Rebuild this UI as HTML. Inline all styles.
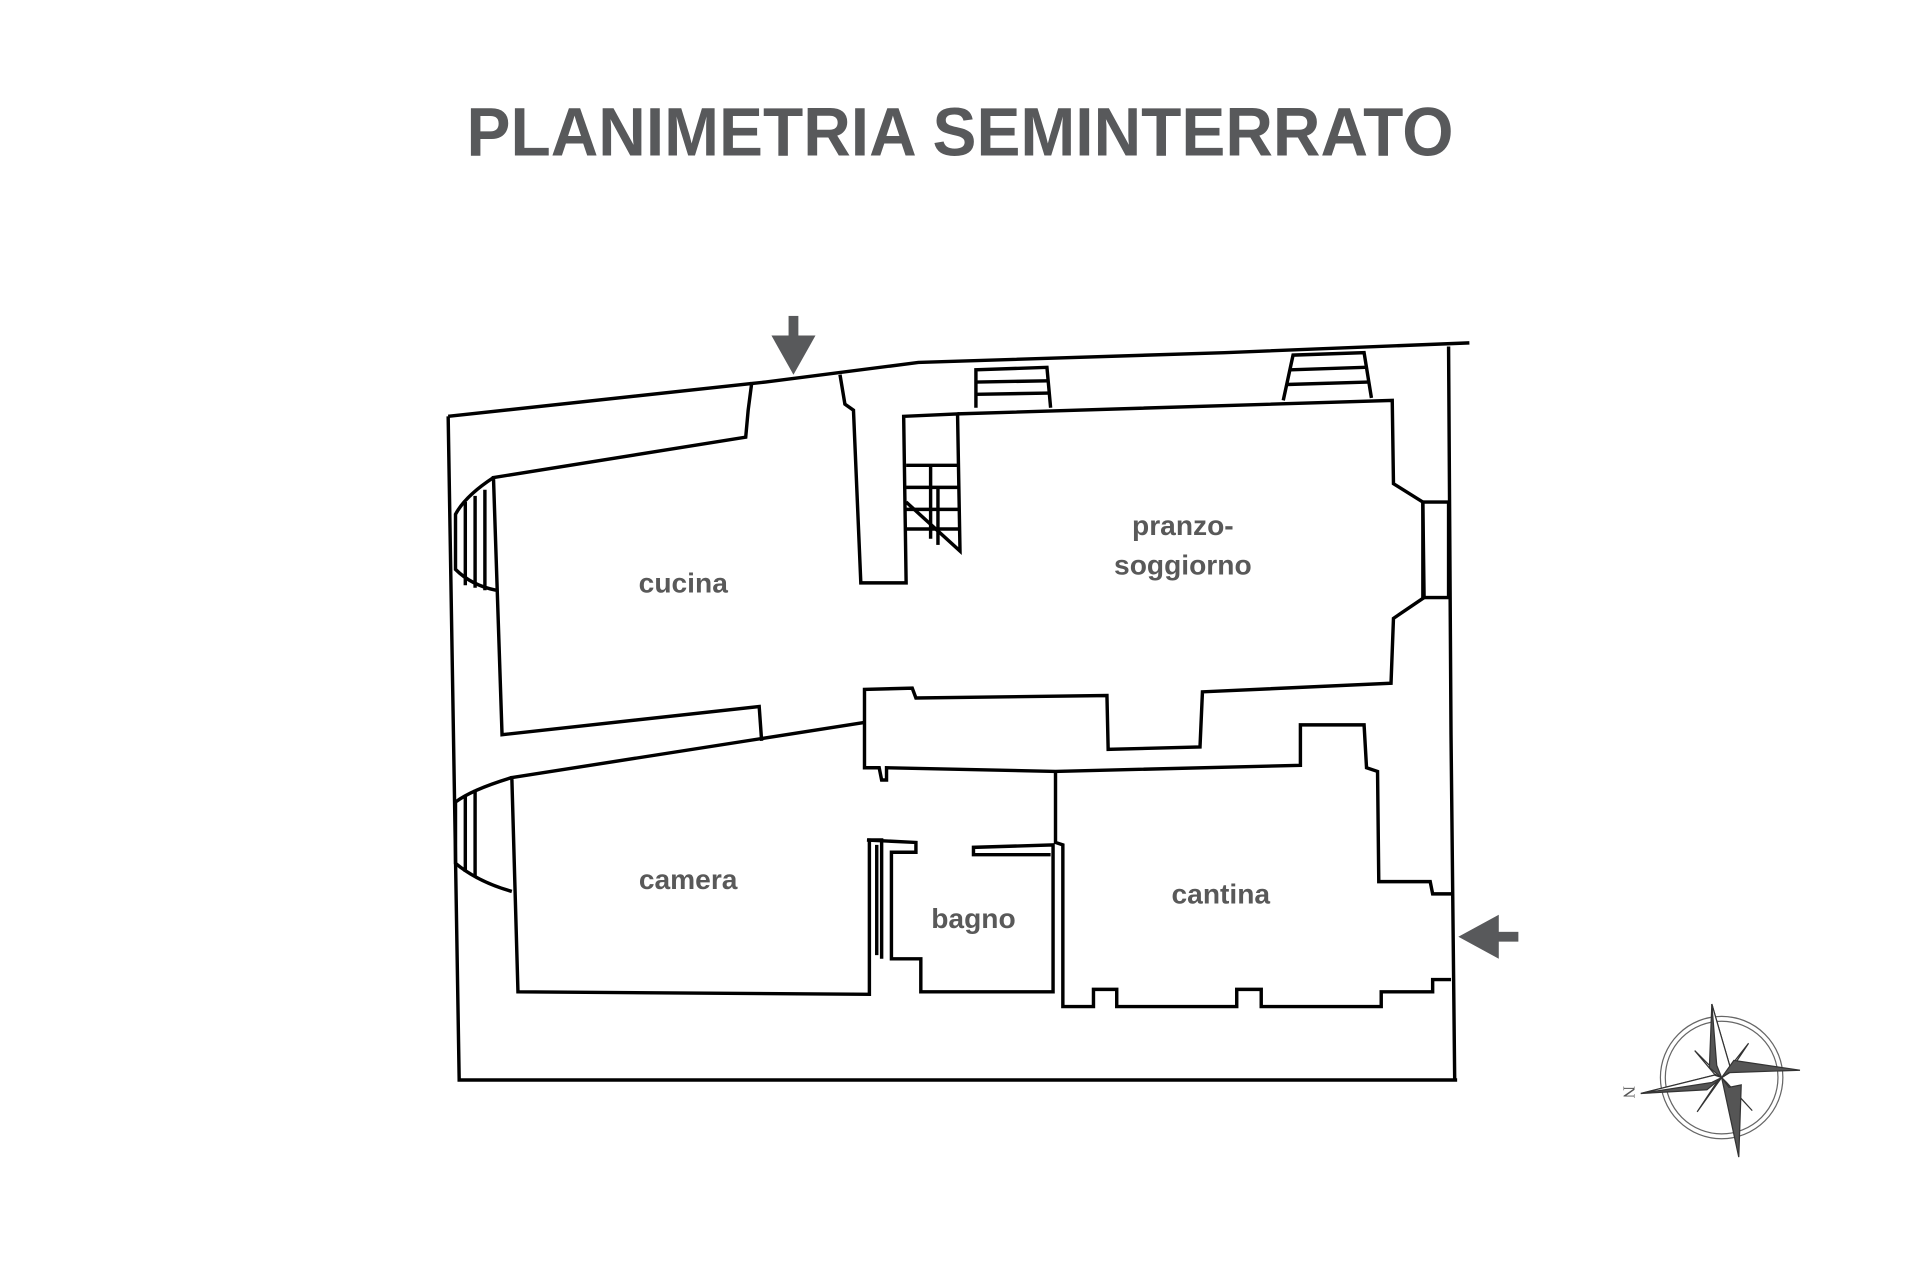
<!DOCTYPE html>
<html><head><meta charset="utf-8"><style>
html,body{margin:0;padding:0;background:#fff;}
svg{display:block}
</style></head><body>
<svg width="1920" height="1280" viewBox="0 0 1568 1045.33" xmlns="http://www.w3.org/2000/svg">
<rect width="1568" height="1046" fill="#fff"/>
<text x="784" y="127" text-anchor="middle" font-family="Liberation Sans, sans-serif" font-weight="bold" font-size="56" fill="#58595b" textLength="806" lengthAdjust="spacingAndGlyphs">PLANIMETRIA SEMINTERRATO</text>
<g fill="none" stroke="#000" stroke-width="2.8" stroke-linejoin="miter">
<polyline points="366,340 625,312 750,296 1000,288 1200,280"/>
<polyline points="366,340 375,882 1190,882"/>
<polyline points="1183,283 1185,600 1188,882"/>
<polyline points="614,312 611,335 609,357 403,390 410,600 620,577 622,605"/>
<polyline points="686,306 690,330 697,335 703,476 740,476 738,340 782,338 784,450 740,410"/>
<polyline points="740,380 784,380"/><polyline points="740,398 784,398"/><polyline points="740,416 784,416"/><polyline points="740,432 784,432"/>
<polyline points="760,380 760,440"/><polyline points="766,398 766,445"/>
<polyline points="782,338 1137,327 1138,395 1162,410 1163,488 1138,505 1136,558 982,565 980,610 905,612 904,568 748,570 745,562 706,563 706,627 718,627 720,637 724,637 724,627 862,630 1062,625 1062,592 1114,592 1116,627 1125,630 1126,720 1168,720 1170,730 1185,730"/>
<rect x="1162" y="410" width="21" height="78"/>
<polyline points="706,590 418,635 423,810 710,812 710,686 720,686 720,783"/>
<polyline points="708,686 748,688 748,696 728,696 728,783 752,783 752,810 860,810 860,690 795,692 795,698 858,698"/>
<polyline points="716,690 716,780"/>
<polyline points="862,630 862,688 868,690 868,822 893,822 893,808 912,808 912,822 1010,822 1010,808 1030,808 1030,822 1128,822 1128,810 1170,810 1170,800 1185,800"/>
<polyline points="797,333 797,302 855,300 858,333"/>
<line x1="797" y1="312" x2="856" y2="311"/><line x1="797" y1="322" x2="857" y2="321"/>
<polyline points="1048,327 1056,290 1114,288 1120,325"/>
<line x1="1054" y1="302" x2="1115" y2="300"/><line x1="1051" y1="314" x2="1117" y2="312"/>
<path d="M403,390 Q380,405 372,420 L372,465 Q385,478 405,482"/>
<line x1="380" y1="410" x2="380" y2="478"/><line x1="388" y1="405" x2="388" y2="480"/><line x1="396" y1="400" x2="396" y2="482"/>
<path d="M418,635 Q385,645 372,655 L372,705 Q390,720 418,728"/>
<line x1="380" y1="650" x2="380" y2="712"/><line x1="388" y1="645" x2="388" y2="716"/>
</g>
<g fill="#58595b">
<rect x="644" y="258" width="8" height="18"/>
<polygon points="630,274 666,274 648,306"/>
<rect x="1220" y="761" width="20" height="8"/>
<polygon points="1191,765 1224,747 1224,783"/>
</g>
<g font-family="Liberation Sans, sans-serif" font-weight="bold" font-size="23" fill="#595959" text-anchor="middle">
<text x="558" y="484">cucina</text>
<text x="966" y="437">pranzo-</text>
<text x="966" y="469">soggiorno</text>
<text x="562" y="726">camera</text>
<text x="795" y="758">bagno</text>
<text x="997" y="738">cantina</text>
</g>
<g stroke="#333" stroke-width="1" fill="#fff">
<circle cx="1406" cy="880" r="50" fill="none" stroke="#666"/>
<circle cx="1406" cy="880" r="46" fill="none" stroke="#666"/>
<polygon points="1406,880 1428,852 1412,876"/>
<polygon points="1406,880 1384,858 1400,877"/>
<polygon points="1406,880 1386,908 1402,884"/>
<polygon points="1406,880 1431,907 1410,884"/>
<polygon points="1398,820 1414,875 1406,880 1396,872" fill="#555"/>
<polygon points="1398,820 1414,875 1406,880 1402,870" fill="#fff"/>
<polygon points="1420,945 1406,880 1412,888 1422,886" fill="#555"/>
<polygon points="1470,874 1412,876 1406,880 1416,866" fill="#555"/>
<polygon points="1340,893 1400,878 1406,880 1394,890" fill="#555"/>
<polygon points="1340,893 1400,878 1406,880 1398,884" fill="#fff"/>
</g>
<text x="1330" y="896" font-family="Liberation Serif, serif" font-size="14" fill="#555" transform="rotate(90 1330 892)" text-anchor="middle">N</text>
</svg>
</body></html>
